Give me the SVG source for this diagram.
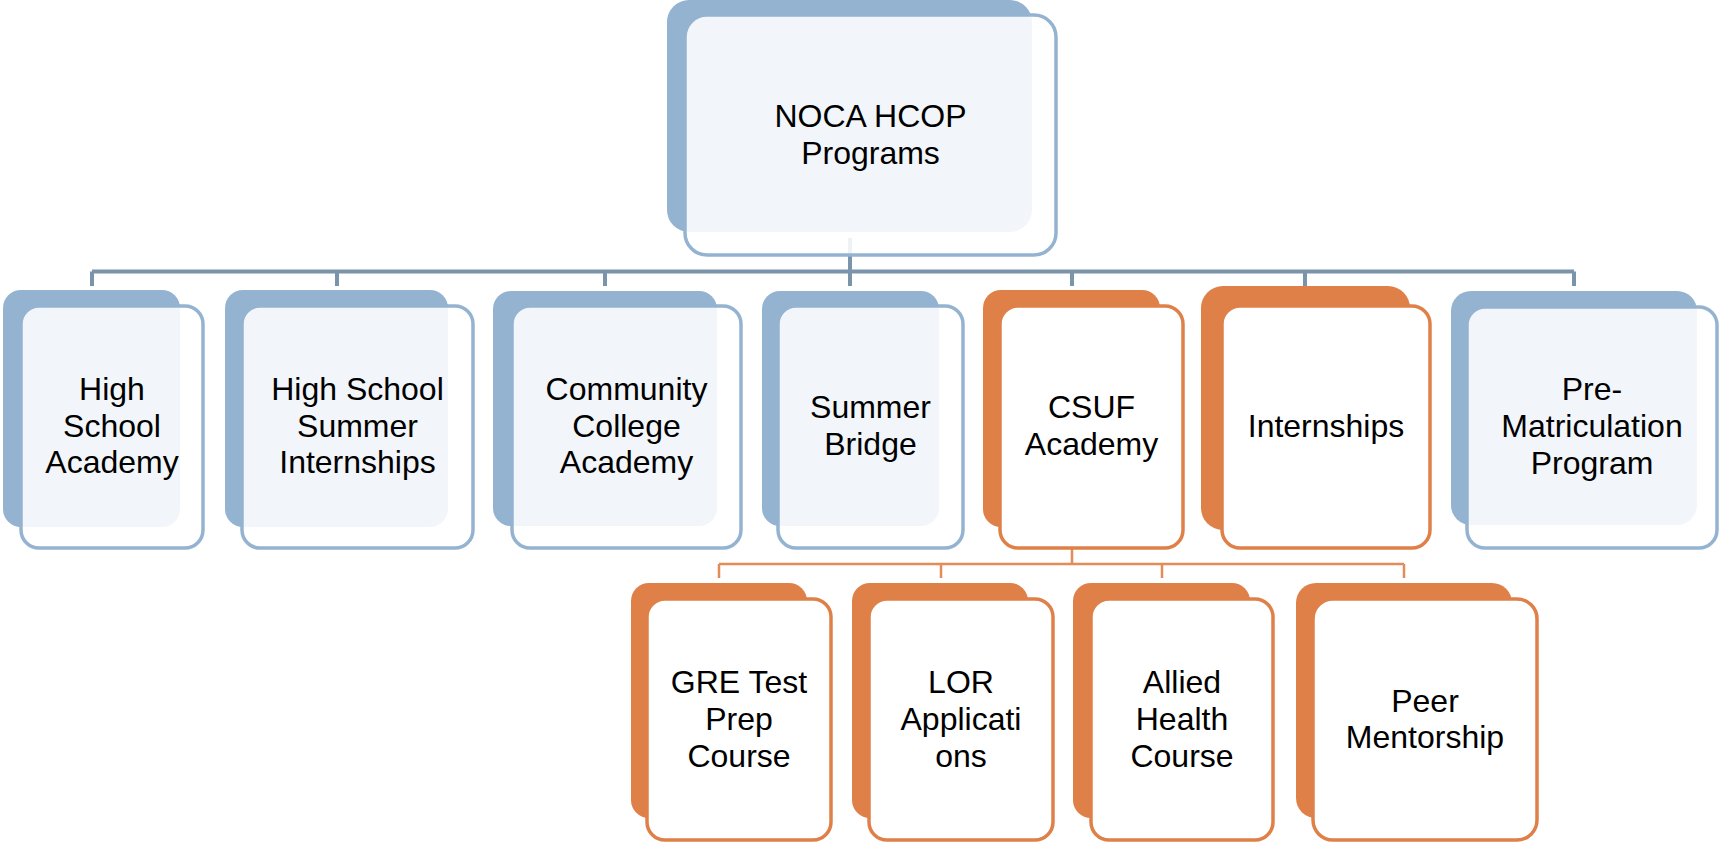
<svg xmlns="http://www.w3.org/2000/svg" width="1722" height="846" viewBox="0 0 1722 846">
  <style>
    .back-b { fill: #94B3D1; }
    .front-b { fill: #FFFFFF; fill-opacity: 0.88; stroke: #94B3D1; stroke-width: 3.5; }
    .back-o { fill: #DF8049; }
    .front-o { fill: #FFFFFF; stroke: #DF8049; stroke-width: 3.5; }
    .lbl { font-family: "Liberation Sans", Arial, sans-serif; font-size: 32px; text-anchor: middle; fill: #000000; }
    .conn-b { stroke: #7A94AC; stroke-width: 4; fill: none; }
    .conn-o { stroke: #E38C57; stroke-width: 2.5; fill: none; }
  </style>
  <rect width="1722" height="846" fill="#FFFFFF"/>

  <!-- connectors -->
  <g id="connectors">
    <path class="conn-b" d="M850 238 V271.5 M92 271.5 H1574 M92 271.5 V286 M337 271.5 V286 M605 271.5 V286 M850 271.5 V286 M1072 271.5 V286 M1305 271.5 V286 M1574 271.5 V286"/>
    <path class="conn-o" d="M1072 548 V564 M719 564 H1404 M719 564 V578 M941 564 V578 M1162 564 V578 M1404 564 V578"/>
  </g>

  <!-- root -->
  <g id="node-root">
    <rect class="back-b" x="667" y="0" width="365" height="232" rx="22"/>
    <rect class="front-b" x="685" y="15" width="371" height="240" rx="22"/>
    <text class="lbl"><tspan x="870.5" y="127">NOCA HCOP</tspan><tspan x="870.5" y="163.5">Programs</tspan></text>
  </g>

  <!-- second level -->
  <g id="node-hs-academy">
    <rect class="back-b" x="3" y="290" width="177" height="237" rx="18"/>
    <rect class="front-b" x="21" y="306" width="182" height="242" rx="18"/>
    <text class="lbl"><tspan x="112" y="399.5">High</tspan><tspan x="112" y="436.5">School</tspan><tspan x="112" y="473">Academy</tspan></text>
  </g>
  <g id="node-hs-internships">
    <rect class="back-b" x="225" y="290" width="223" height="237" rx="18"/>
    <rect class="front-b" x="242" y="306" width="231" height="242" rx="18"/>
    <text class="lbl"><tspan x="357.5" y="399.5">High School</tspan><tspan x="357.5" y="436.5">Summer</tspan><tspan x="357.5" y="473">Internships</tspan></text>
  </g>
  <g id="node-cc-academy">
    <rect class="back-b" x="493" y="291" width="224" height="235" rx="18"/>
    <rect class="front-b" x="512" y="306" width="229" height="242" rx="18"/>
    <text class="lbl"><tspan x="626.5" y="399.5">Community</tspan><tspan x="626.5" y="436.5">College</tspan><tspan x="626.5" y="473">Academy</tspan></text>
  </g>
  <g id="node-summer-bridge">
    <rect class="back-b" x="762" y="291" width="177" height="235" rx="18"/>
    <rect class="front-b" x="778" y="306" width="185" height="242" rx="18"/>
    <text class="lbl"><tspan x="870.5" y="418">Summer</tspan><tspan x="870.5" y="455">Bridge</tspan></text>
  </g>
  <g id="node-csuf-academy">
    <rect class="back-o" x="983" y="290" width="177" height="237" rx="18"/>
    <rect class="front-o" x="1000" y="306" width="183" height="242" rx="18"/>
    <text class="lbl"><tspan x="1091.5" y="418">CSUF</tspan><tspan x="1091.5" y="455">Academy</tspan></text>
  </g>
  <g id="node-internships">
    <rect class="back-o" x="1201" y="286" width="209" height="244" rx="22"/>
    <rect class="front-o" x="1222" y="306" width="208" height="242" rx="18"/>
    <text class="lbl"><tspan x="1326" y="437">Internships</tspan></text>
  </g>
  <g id="node-pre-matriculation">
    <rect class="back-b" x="1451" y="291" width="246" height="234" rx="20"/>
    <rect class="front-b" x="1467" y="307" width="250" height="241" rx="18"/>
    <text class="lbl"><tspan x="1592" y="400">Pre-</tspan><tspan x="1592" y="437">Matriculation</tspan><tspan x="1592" y="473.5">Program</tspan></text>
  </g>

  <!-- third level under CSUF Academy -->
  <g id="node-gre">
    <rect class="back-o" x="631" y="583" width="176" height="235" rx="18"/>
    <rect class="front-o" x="647" y="599" width="184" height="241" rx="18"/>
    <text class="lbl"><tspan x="739" y="693">GRE Test</tspan><tspan x="739" y="730">Prep</tspan><tspan x="739" y="767">Course</tspan></text>
  </g>
  <g id="node-lor">
    <rect class="back-o" x="852" y="583" width="176" height="235" rx="18"/>
    <rect class="front-o" x="869" y="599" width="184" height="241" rx="18"/>
    <text class="lbl"><tspan x="961" y="693">LOR</tspan><tspan x="961" y="730">Applicati</tspan><tspan x="961" y="767">ons</tspan></text>
  </g>
  <g id="node-allied-health">
    <rect class="back-o" x="1073" y="583" width="177" height="235" rx="18"/>
    <rect class="front-o" x="1091" y="599" width="182" height="241" rx="18"/>
    <text class="lbl"><tspan x="1182" y="693">Allied</tspan><tspan x="1182" y="730">Health</tspan><tspan x="1182" y="767">Course</tspan></text>
  </g>
  <g id="node-peer-mentorship">
    <rect class="back-o" x="1296" y="583" width="216" height="235" rx="20"/>
    <rect class="front-o" x="1313" y="599" width="224" height="241" rx="20"/>
    <text class="lbl"><tspan x="1425" y="712">Peer</tspan><tspan x="1425" y="747.5">Mentorship</tspan></text>
  </g>
</svg>
